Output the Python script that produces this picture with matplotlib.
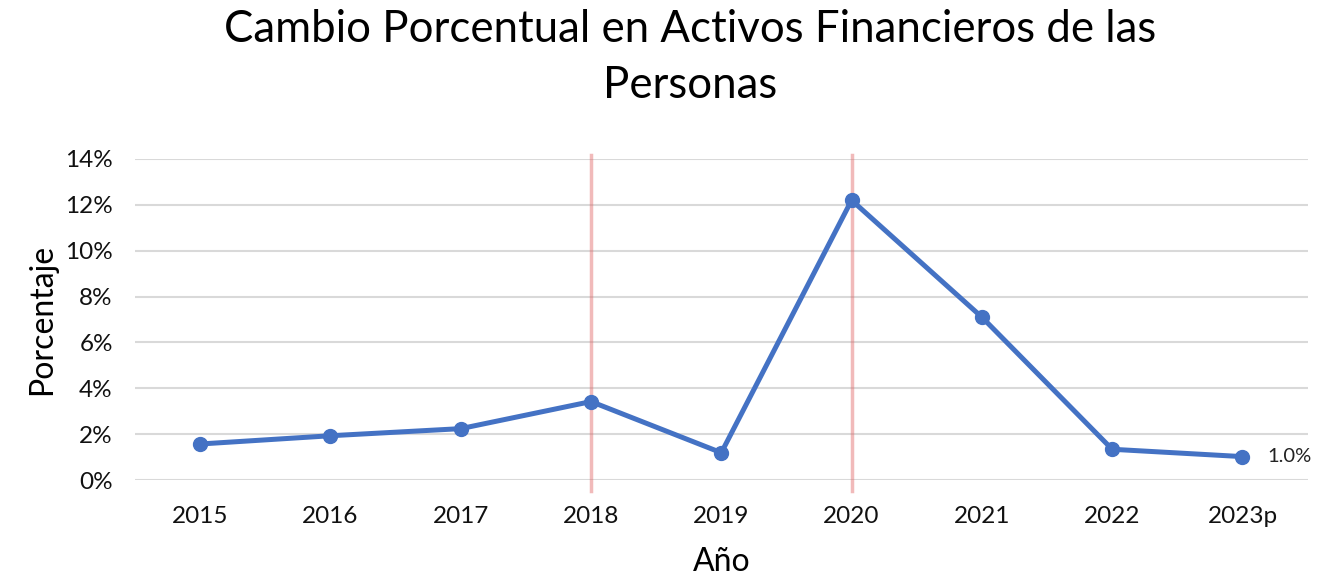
import matplotlib
matplotlib.use('Agg')
import matplotlib.pyplot as plt
from matplotlib.ticker import FuncFormatter

plt.rcParams['font.family'] = ['Lato', 'DejaVu Sans']

years = ['2015', '2016', '2017', '2018', '2019', '2020', '2021', '2022', '2023p']
pct_change = [1.57, 1.93, 2.24, 3.42, 1.19, 12.2, 7.1, 1.34, 1.02]
marked_years = ['2018', '2020']
y_ticks = [0, 2, 4, 6, 8, 10, 12, 14]

fig = plt.figure(figsize=(13.37, 5.8), dpi=100)
ax = fig.add_axes([0.101, 0.1724, 0.877, 0.5536])

x = list(range(len(years)))
ax.plot(x, pct_change, color='#4472C4', linewidth=3.6, marker='o',
        markersize=10, zorder=3, solid_capstyle='round')

# red reference lines
for yr in marked_years:
    xi = years.index(yr)
    ax.axvline(xi, ymin=-0.035, ymax=1.012, color='#E06666', alpha=0.45,
               linewidth=2.5, zorder=2, clip_on=False)

# label on last point
ax.annotate('{:.1f}%'.format(pct_change[-1]), (x[-1], pct_change[-1]),
            xytext=(18, 0), textcoords='offset points', va='center',
            ha='left', fontsize=14.5, color='#222222')

ax.set_xlim(-0.5, len(years) - 0.5)
ax.set_ylim(0, 14)
ax.set_yticks(y_ticks)
ax.yaxis.set_major_formatter(FuncFormatter(lambda v, p: '{:.0f}%'.format(v)))
ax.set_xticks(x)
ax.set_xticklabels(years)
ax.grid(axis='y', color='#D9D9D9', linewidth=1.5, zorder=0)
ax.set_axisbelow(True)
for s in ax.spines.values():
    s.set_visible(False)
ax.tick_params(axis='both', length=0, labelsize=17.5, colors='#111111')
ax.tick_params(axis='x', pad=19)
ax.tick_params(axis='y', pad=16)

ax.set_xlabel('Año', fontsize=23, labelpad=14)
ax.set_ylabel('Porcentaje', fontsize=23, labelpad=6)

fig.suptitle('Cambio Porcentual en Activos Financieros de las\nPersonas',
             fontsize=31.5, x=0.516, y=0.985, linespacing=1.45)

fig.savefig('out.png', dpi=100)
